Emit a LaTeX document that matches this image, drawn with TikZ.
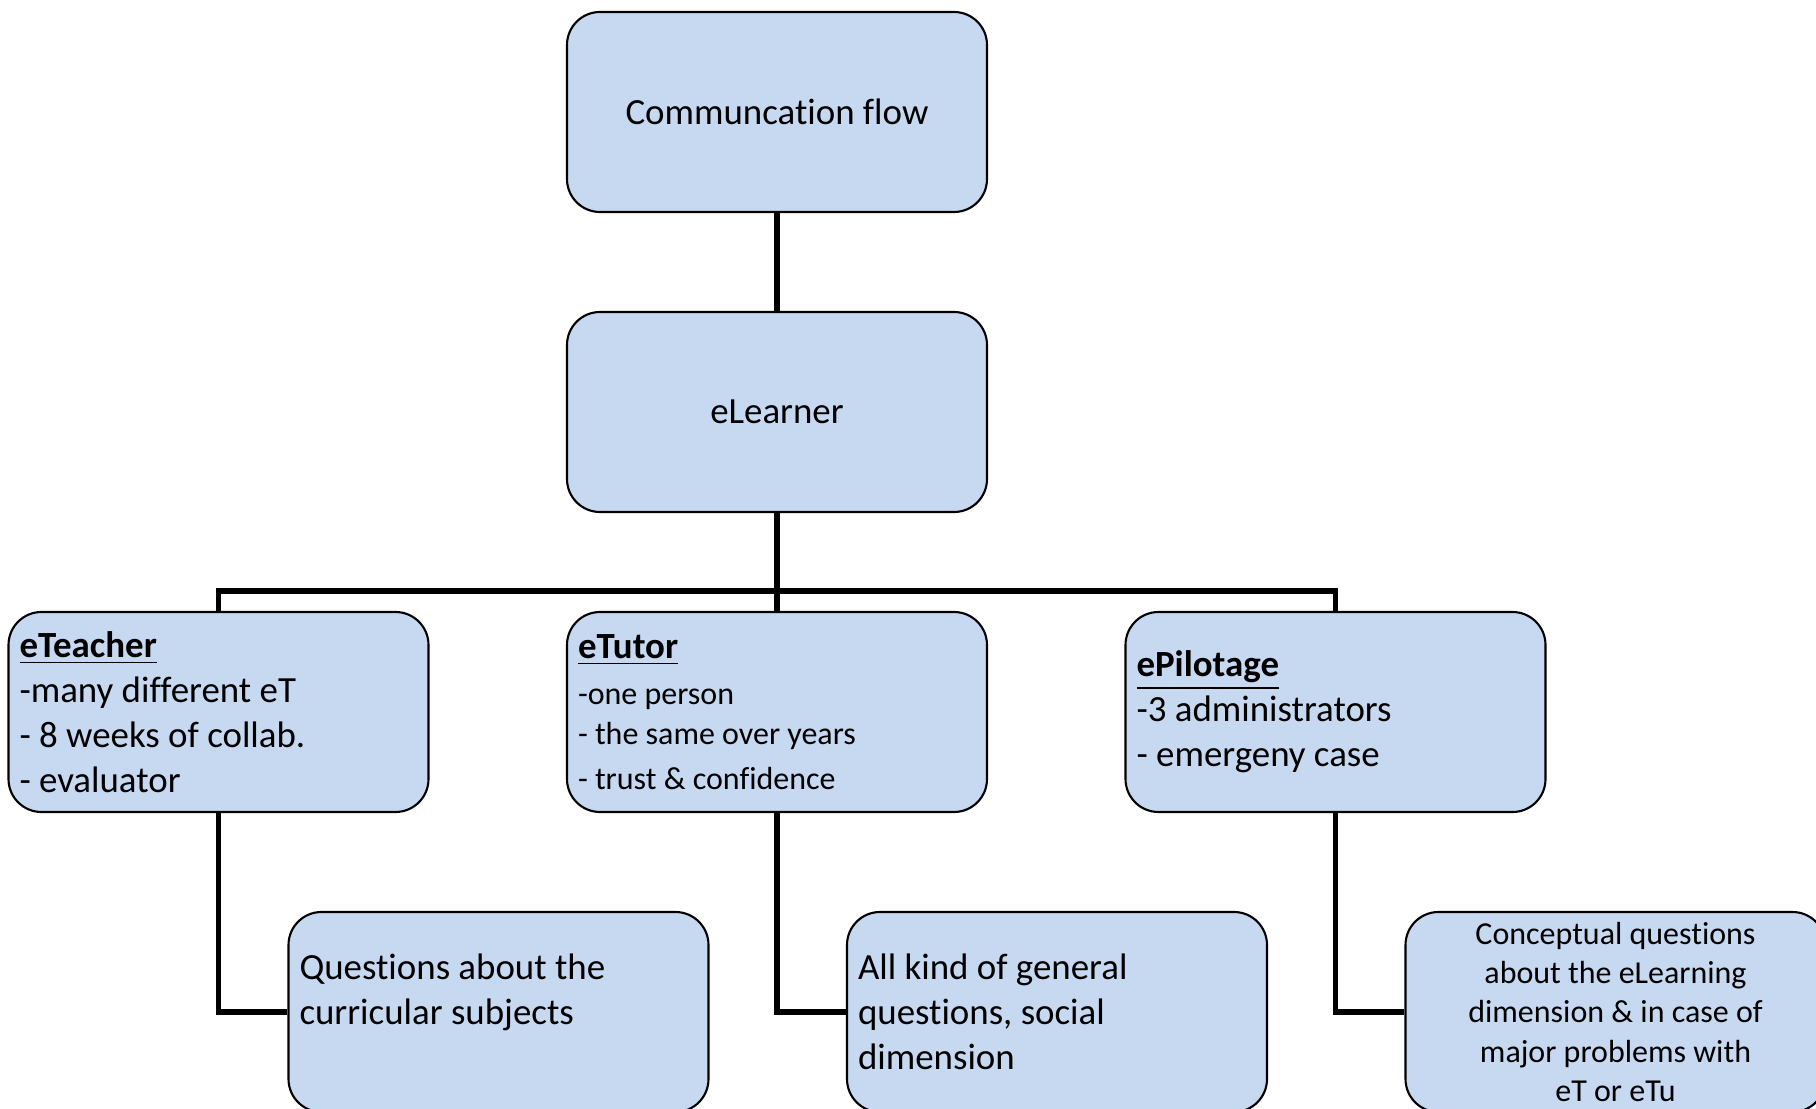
\documentclass[tikz,border=0pt]{standalone}
\usepackage{fontspec}
\setmainfont{Carlito}[Ligatures={NoCommon}]
\definecolor{boxblue}{HTML}{C6D9F1}
\newcommand{\bigsz}{\fontsize{10.5}{12.8}\selectfont}
\newcommand{\smallsz}{\fontsize{9.1}{11.2}\selectfont}
\newcommand{\head}[1]{\underline{\textbf{#1}}}

\begin{document}
\begin{tikzpicture}[
		box/.style={draw=black, line width=0.6pt, fill=boxblue, rounded corners=0.33cm,
			minimum width=4.2cm, minimum height=2cm, inner sep=0pt, font=\bigsz},
		boxleft/.style={box, align=flush left, text width=3.98cm},
		boxmid/.style={box, align=flush center, text width=3.98cm},
		link/.style={line width=1.6pt}]
		%%%%% START %%%%%
		
		\useasboundingbox (0, 0) rectangle (18.16, 11.08);
		\clip (0, 0) rectangle (18.16, 11.08);
		
		% top of the tree
		\node[boxmid] (flow) at (7.77, 9.96) {Communcation flow};
		\node[boxmid] (lrn) at (7.77, 6.96) {eLearner};
		\coordinate (bus) at (7.77, 5.17);
		
		% the three contacts
		\node[boxleft] (tch) at (2.185, 3.96) {\head{eTeacher}\\-many different eT\\- 8 weeks of collab.\\- evaluator};
		\node[boxleft] (tut) at (7.77, 3.96) {\head{eTutor}\\[2pt]\smallsz -one person\\\smallsz - the same over years\\\smallsz - trust \& confidence};
		\node[boxleft] (pil) at (13.355, 3.96) {\head{ePilotage}\\-3 administrators\\- emergeny case};
		
		% what each one is for
		\node[boxleft] (qst) at (4.985, 0.96) {Questions about the\\curricular subjects\\\mbox{}};
		\node[boxleft] (gen) at (10.57, 0.96) {All kind of general\\questions, social\\dimension};
		\node[boxmid, font=\smallsz] (cpt) at (16.155, 0.96) {Conceptual questions\\about the eLearning\\dimension \& in case of\\major problems with\\eT or eTu};
		
		\draw[link] (flow) -- (lrn);
		\draw[link] (lrn) -- (bus);
		\draw[link] (tch.north) -- (tch.north |- bus) -- (pil.north |- bus) -- (pil.north);
		\draw[link] (bus) -- (tut.north);
		
		\draw[link] (tch.south) |- (qst.west);
		\draw[link] (tut.south) |- (gen.west);
		\draw[link] (pil.south) |- (cpt.west);
		
		%%%%% END %%%%%
	\end{tikzpicture}
\end{document}
